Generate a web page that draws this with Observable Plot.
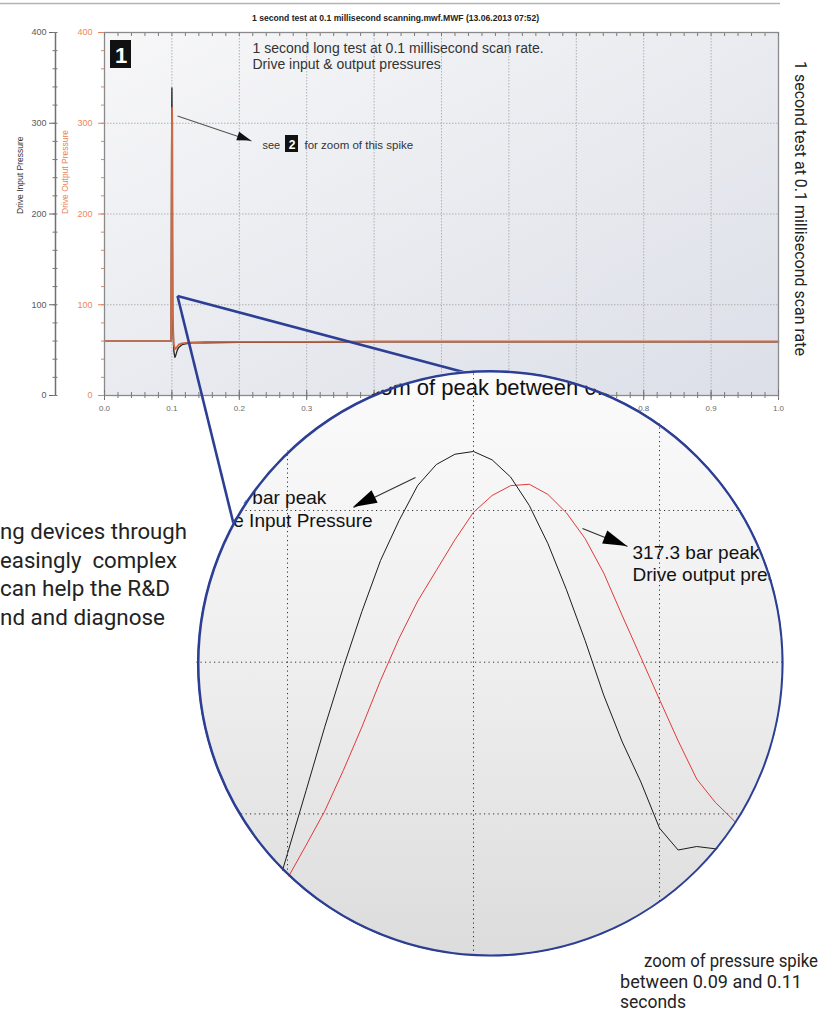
<!DOCTYPE html>
<html>
<head>
<meta charset="utf-8">
<script src="https://cdn.jsdelivr.net/npm/d3@7"></script>
<script src="https://cdn.jsdelivr.net/npm/@observablehq/plot@0.6"></script>
<style>
html, body { margin: 0; padding: 0; background: #fff; }
#page { position: relative; width: 825px; height: 1014px; overflow: hidden; background: #fff; }
</style>
</head>
<body>
<div id="page"></div>
<script>
// ---------------- DATA ----------------
// main chart: 1 second test (seconds, bar)
const mainTime    = [0, 0.0988, 0.0995, 0.1000, 0.1003, 0.1006, 0.1010, 0.1015, 0.1020, 0.1030, 0.1045, 0.1060, 0.1080, 0.1100, 0.1150, 0.1200, 0.1300, 0.1500, 0.2, 0.3, 0.4, 0.5, 0.6, 0.7, 0.8, 0.9, 1.0];
const driveInput  = [60, 60, 267, 339, 303, 247, 90, 72, 62, 48, 42, 45, 50, 53, 56, 57, 58, 58, 58.5, 58.5, 59, 59, 59, 59, 59, 59, 59];
const driveOutput = [60, 60, 188, 299, 317, 298, 176, 90, 70, 56, 51, 52, 54, 56, 57.5, 58, 58.5, 59, 59, 59, 59.5, 59.5, 59.5, 59.5, 59.5, 59.5, 59.5];
const xTicks      = [0, 0.1, 0.2, 0.3, 0.4, 0.5, 0.6, 0.7, 0.8, 0.9, 1.0];
const xMinorTicks = d3.range(0, 1.0001, 0.02);
const yTicks      = [0, 100, 200, 300, 400];
const yMinorTicks = d3.range(0, 401, 20);

// zoom of the spike (0.1 ms samples)
const zoomTime   = [0.0989, 0.0990, 0.0991, 0.0992, 0.0993, 0.0994, 0.0995, 0.0996, 0.0997, 0.0998, 0.0999, 0.1000, 0.1001, 0.1002, 0.1003, 0.1004, 0.1005, 0.1006, 0.1007, 0.1008, 0.1009, 0.1010, 0.1011, 0.1012, 0.1013, 0.1014, 0.1015];
const zoomInput  = [32.4, 73.9, 115.4, 157.2, 196.5, 233.4, 267.0, 293.4, 316.5, 330.3, 337.1, 338.9, 333.4, 322.0, 303.3, 278.2, 247.7, 214.3, 178.3, 147.4, 121.0, 90.6, 76.2, 78.5, 77.0, 76.0, 74.0];
const zoomOutput = [35.0, 57.4, 79.4, 101.8, 128.6, 157.3, 187.9, 215.8, 240.3, 260.5, 280.7, 298.8, 309.9, 316.4, 317.3, 310.6, 298.4, 281.5, 258.8, 230.6, 203.1, 175.4, 148.2, 123.0, 107.6, 95.6, 82.5];
const zoomXTicks = [0.099, 0.100, 0.101];
const zoomYTicks = [100, 200, 300];

// annotation anchors (data units)
const mainArrow  = [{x1: 0.1083, y1: 307.9, x2: 0.2181, y2: 280.5}];
const connectors = [{x1: 0.1083, y1: 109.6, x2: 0.1921, y2: -143.3}, {x1: 0.1083, y1: 109.6, x2: 0.5323, y2: 25.8}];
const zoomArrows = [{x1: 0.0996882, y1: 321.8, x2: 0.0993548, y2: 302.0}, {x1: 0.1005860, y1: 288.1, x2: 0.1008280, y2: 276.3}];

// texts
const chartTitle   = "1 second test at 0.1 millisecond scanning.mwf.MWF (13.06.2013 07:52)";
const chartNote    = "1 second long test at 0.1 millisecond scan rate.\nDrive input & output pressures";
const inputLabel   = "Drive Input Pressure";
const outputLabel  = "Drive Output Pressure";
const zoomTitle    = "Zoom of peak between 0.09 and 0.11 seconds";
const inputPeak    = "338.9 bar peak\nDrive Input Pressure";
const outputPeak   = "317.3 bar peak\nDrive output pressure";
const sideText     = "1 second test at 0.1 millisecond scan rate";
const paragraph    = ["ng devices through", "easingly  complex", "can help the R&D", "nd and diagnose"];
const caption      = ["zoom of pressure spike", "between 0.09 and 0.11", "seconds"];

const mainRows = mainTime.map((t, i) => ({t, input: driveInput[i], output: driveOutput[i]}));
const zoomRows = zoomTime.map((t, i) => ({t, input: zoomInput[i], output: zoomOutput[i]}));

// ---------------- helpers ----------------
function scaleFn(scales, k) {
  if (typeof scales[k] === "function") return scales[k];
  return scales.scales[k].apply;
}
function arrowHeads(list, {fill = "#000", len = 14, width = 10} = {}) {
  return (index, scales) => {
    const sx = scaleFn(scales, "x"), sy = scaleFn(scales, "y");
    const g = d3.create("svg:g").attr("fill", fill);
    for (const a of list) {
      const x1 = sx(a.x1), y1 = sy(a.y1), x2 = sx(a.x2), y2 = sy(a.y2);
      const L = Math.hypot(x2 - x1, y2 - y1), ux = (x2 - x1) / L, uy = (y2 - y1) / L;
      const bx = x2 - ux * len, by = y2 - uy * len, nx = -uy * width / 2, ny = ux * width / 2;
      g.append("path").attr("d", `M${x2},${y2}L${bx + nx},${by + ny}L${bx - nx},${by - ny}Z`);
    }
    return g.node();
  };
}
function boxAt(dx, dy, w, h, fill) {
  return (index, scales, values, dims) =>
    d3.create("svg:rect").attr("x", dims.marginLeft + dx).attr("y", dims.marginTop + dy)
      .attr("width", w).attr("height", h).attr("fill", fill).node();
}

const page = document.getElementById("page");

// gradients
const defsSvg = d3.select(page).append("svg").attr("width", 0).attr("height", 0)
  .style("position", "absolute").style("left", 0).style("top", 0);
const defs = defsSvg.append("defs");
const gm = defs.append("linearGradient").attr("id", "mainBg").attr("x1", 0).attr("y1", 0).attr("x2", 1).attr("y2", 1);
gm.append("stop").attr("offset", "0%").attr("stop-color", "#f7f7f8");
gm.append("stop").attr("offset", "100%").attr("stop-color", "#dcdfe8");
const gz = defs.append("linearGradient").attr("id", "zoomBg").attr("x1", 0).attr("y1", 0).attr("x2", 0).attr("y2", 1);
gz.append("stop").attr("offset", "0%").attr("stop-color", "#fbfbfb");
gz.append("stop").attr("offset", "55%").attr("stop-color", "#ededed");
gz.append("stop").attr("offset", "100%").attr("stop-color", "#dcdcdc");

const orange = "#e9825a";
const navy = "#2c3f95";

// ---------------- MAIN CHART ----------------
const main = Plot.plot({
  width: 825, height: 420,
  marginLeft: 104, marginRight: 47, marginTop: 32, marginBottom: 25,
  x: {domain: [0, 1], label: null},
  y: {domain: [0, 400], label: null},
  style: {background: "transparent", overflow: "visible", fontFamily: "'Liberation Sans', Arial, sans-serif"},
  marks: [
    Plot.frame({fill: "url(#mainBg)", stroke: "none"}),
    Plot.gridX(xTicks.slice(1, -1), {stroke: "#b0b0b0", strokeOpacity: 1, strokeDasharray: "1.5,1.5"}),
    Plot.gridY(yTicks.slice(1, -1), {stroke: "#b0b0b0", strokeOpacity: 1, strokeDasharray: "1.5,1.5"}),
    Plot.line(mainRows, {x: "t", y: "input", stroke: "#222", strokeWidth: 1.3}),
    Plot.line(mainRows, {x: "t", y: "output", stroke: "#cc6a44", strokeWidth: 1.8}),
    Plot.frame({stroke: "#8a8a8a", strokeWidth: 1.3, fill: "none"}),
    // x axis
    Plot.axisX(xTicks, {anchor: "bottom", tickSize: 5, tickPadding: 5, tickFormat: d3.format(".1f"), fontSize: 8, fill: "#6a6a6a", stroke: "#6e6e6e", label: null}),
    Plot.axisX(xTicks, {anchor: "bottom", tickSize: 5, dy: -5, fill: "none", stroke: "#6e6e6e", label: null}),
    Plot.axisX(xMinorTicks, {anchor: "bottom", tickSize: 3, fill: "none", stroke: "#7a7a7a", label: null}),
    Plot.axisX(xMinorTicks, {anchor: "bottom", tickSize: 3, dy: -3, fill: "none", stroke: "#7a7a7a", label: null}),
    Plot.axisX(xMinorTicks, {anchor: "top", tickSize: 3, dy: 3, fill: "none", stroke: "#7a7a7a", label: null}),
    // outer (input) y axis
    Plot.ruleX([0], {dx: -49, stroke: "#707070", strokeWidth: 1.5}),
    Plot.axisY(yTicks, {anchor: "left", dx: -49, tickSize: 6, tickPadding: 3, fontSize: 9, fill: "#5a5a5a", stroke: "#666", label: null}),
    Plot.axisY(yMinorTicks, {anchor: "left", dx: -46.5, tickSize: 5, fill: "none", stroke: "#777", label: null}),
    // inner (output) y axis
    Plot.axisY(yTicks, {anchor: "left", tickSize: 6, tickPadding: 6, fontSize: 9, fill: "#f0875a", stroke: orange, label: null}),
    Plot.axisY(yMinorTicks, {anchor: "left", tickSize: 3, fill: "none", stroke: orange, label: null}),
    Plot.text([inputLabel], {frameAnchor: "left", dx: -84, rotate: -90, fontSize: 8.5, fill: "#333"}),
    Plot.text([outputLabel], {frameAnchor: "left", dx: -39, rotate: -90, fontSize: 8.5, fill: orange}),
    // texts
    Plot.text([chartTitle], {frameAnchor: "top", dx: -46, dy: -12, lineAnchor: "bottom", fontSize: 8.6, fontWeight: "bold", fill: "#222"}),
    boxAt(6, 8, 21, 28, "#111"),
    Plot.text(["1"], {frameAnchor: "top-left", dx: 16.5, dy: 30, textAnchor: "middle", lineAnchor: "bottom", fontSize: 22, fontWeight: "bold", fill: "#fff"}),
    Plot.text([chartNote], {frameAnchor: "top-left", dx: 148, dy: 36, textAnchor: "start", lineAnchor: "bottom", fontSize: 14, lineHeight: 16 / 14, fill: "#333"}),
    Plot.text(["see"], {frameAnchor: "top-left", dx: 158, dy: 116, textAnchor: "start", lineAnchor: "bottom", fontSize: 11, fill: "#333"}),
    boxAt(181, 103, 13, 17, "#111"),
    Plot.text(["2"], {frameAnchor: "top-left", dx: 187.5, dy: 116, textAnchor: "middle", lineAnchor: "bottom", fontSize: 12, fontWeight: "bold", fill: "#fff"}),
    Plot.text(["for zoom of this spike"], {frameAnchor: "top-left", dx: 200, dy: 116, textAnchor: "start", lineAnchor: "bottom", fontSize: 11.5, fill: "#333"}),
    Plot.link(mainArrow, {x1: "x1", y1: "y1", x2: "x2", y2: "y2", stroke: "#555", strokeWidth: 1.1}),
    arrowHeads(mainArrow, {fill: "#111", len: 14, width: 9}),
    // connectors to zoom circle
    Plot.link(connectors, {x1: "x1", y1: "y1", x2: "x2", y2: "y2", stroke: navy, strokeWidth: 2.6})
  ]
});
main.style.position = "absolute";
main.style.left = "0px";
main.style.top = "0px";
page.appendChild(main);

// ---------------- ZOOM INSET ----------------
const zoom = Plot.plot({
  width: 588, height: 588, margin: 0,
  x: {domain: [0.0985108, 0.1016720], label: null, axis: null},
  y: {domain: [5.34, 392.95], label: null, axis: null},
  style: {background: "transparent", overflow: "visible", fontFamily: "'Liberation Sans', Arial, sans-serif"},
  marks: [
    Plot.dot([0], {frameAnchor: "middle", r: 293.6, fill: "url(#zoomBg)", stroke: "none"}),
    Plot.gridX(zoomXTicks, {stroke: "#111", strokeOpacity: 0.85, strokeDasharray: "1.2,3.3", strokeWidth: 1}),
    Plot.gridY(zoomYTicks, {stroke: "#111", strokeOpacity: 0.85, strokeDasharray: "1.2,3.3", strokeWidth: 1}),
    Plot.line(zoomRows, {x: "t", y: "output", stroke: "#e03a3a", strokeWidth: 1}),
    Plot.line(zoomRows, {x: "t", y: "input", stroke: "#1c1c1c", strokeWidth: 1}),
    Plot.text([zoomTitle], {frameAnchor: "top-left", dx: 158, dy: 25, textAnchor: "start", lineAnchor: "bottom", fontSize: 22, fill: "#111"}),
    Plot.text([inputPeak], {frameAnchor: "top-left", dx: 3, dy: 157, textAnchor: "start", lineAnchor: "bottom", fontSize: 19, lineHeight: 23 / 19, fill: "#111"}),
    Plot.text([outputPeak], {frameAnchor: "top-left", dx: 436, dy: 211, textAnchor: "start", lineAnchor: "bottom", fontSize: 19, lineHeight: 22 / 19, fill: "#111"}),
    Plot.link(zoomArrows, {x1: "x1", y1: "y1", x2: "x2", y2: "y2", stroke: "#333", strokeWidth: 1.2}),
    arrowHeads(zoomArrows, {fill: "#000", len: 24, width: 14}),
    Plot.dot([0], {frameAnchor: "middle", r: 292.3, fill: "none", stroke: navy, strokeWidth: 2.6})
  ]
});
zoom.style.position = "absolute";
zoom.style.left = "196px";
zoom.style.top = "369px";
zoom.style.clipPath = "circle(293.6px at 294px 294px)";
page.appendChild(zoom);

// ---------------- FREE TEXT ----------------
const ov = d3.select(page).append("svg").attr("width", 825).attr("height", 1014)
  .style("position", "absolute").style("left", 0).style("top", 0).style("pointer-events", "none")
  .attr("font-family", "Roboto, 'Liberation Sans', sans-serif").attr("fill", "#232323");

ov.append("line").attr("x1", 0).attr("x2", 780).attr("y1", 3.5).attr("y2", 3.5)
  .attr("stroke", "#b3b3b3").attr("stroke-width", 1.5);

const paraLen = [187, 177, 170, 165];
paragraph.forEach((s, i) => {
  ov.append("text").attr("x", 0).attr("y", 539 + i * 28.5).attr("font-size", 22)
    .style("white-space", "pre").attr("textLength", paraLen[i]).attr("lengthAdjust", "spacingAndGlyphs").text(s);
});

ov.append("text").attr("x", 795).attr("y", 61).attr("transform", "rotate(90,795,61)")
  .attr("font-size", 17).attr("textLength", 295).attr("lengthAdjust", "spacingAndGlyphs").text(sideText);

ov.append("text").attr("x", 644).attr("y", 967).attr("font-size", 17.5).attr("textLength", 174).attr("lengthAdjust", "spacingAndGlyphs").text(caption[0]);
ov.append("text").attr("x", 620).attr("y", 988).attr("font-size", 17.5).attr("textLength", 182).attr("lengthAdjust", "spacingAndGlyphs").text(caption[1]);
ov.append("text").attr("x", 620).attr("y", 1008).attr("font-size", 17.5).text(caption[2]);
</script>
</body>
</html>
